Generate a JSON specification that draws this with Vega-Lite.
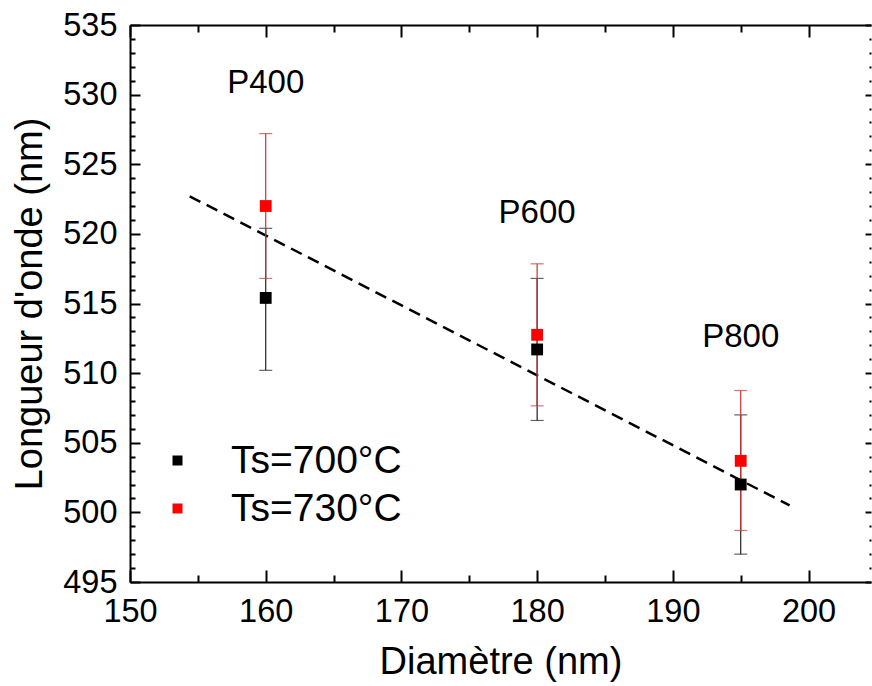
{
  "$schema": "https://vega.github.io/schema/vega-lite/v6.json",
  "width": 741,
  "height": 557,
  "autosize": {"type": "none"},
  "padding": {"left": 130, "top": 25, "right": 1, "bottom": 104},
  "background": "white",
  "config": {
    "font": "Liberation Sans",
    "view": {"stroke": null},
    "axis": {"grid": false, "labelColor": "black", "titleColor": "black", "tickColor": "black", "domainColor": "black", "labelFont": "Liberation Sans", "titleFont": "Liberation Sans", "titleFontWeight": "normal", "labelFlush": false, "labelOverlap": false, "tickWidth": 2, "domainWidth": 2}
  },
  "datasets": {
    "pts": [
      {"d": 160, "series": "Ts=700°C", "y": 515.4, "lo": 510.2, "hi": 520.4},
      {"d": 180, "series": "Ts=700°C", "y": 511.7, "lo": 506.6, "hi": 516.8},
      {"d": 195, "series": "Ts=700°C", "y": 502.0, "lo": 497.0, "hi": 507.0},
      {"d": 160, "series": "Ts=730°C", "y": 522.0, "lo": 516.8, "hi": 527.2},
      {"d": 180, "series": "Ts=730°C", "y": 512.75, "lo": 507.65, "hi": 517.85},
      {"d": 195, "series": "Ts=730°C", "y": 503.7, "lo": 498.7, "hi": 508.75}
    ],
    "fit": [
      {"x": 154.4, "y": 522.7},
      {"x": 198.6, "y": 500.5}
    ],
    "labels": [
      {"x": 160, "y": 530.8, "text": "P400"},
      {"x": 180, "y": 521.5, "text": "P600"},
      {"x": 195, "y": 512.6, "text": "P800"}
    ]
  },
  "layer": [
    {
      "data": {"name": "fit"},
      "mark": {"type": "line", "color": "black", "strokeWidth": 2.5, "strokeDash": [12, 7]},
      "encoding": {
        "x": {"field": "x", "type": "quantitative",
          "scale": {"domain": [150, 204.6], "nice": false, "zero": false},
          "axis": {"orient": "bottom", "values": [150,155,160,165,170,175,180,185,190,195,200],
            "tickSize": {"condition": {"test": "datum.value % 10 === 0", "value": -12}, "value": -7},
            "labelExpr": "datum.value % 10 === 0 ? datum.label : ''",
            "labelPadding": 25, "labelFontSize": 32.5, "domain": true,
            "title": "Diamètre (nm)", "titleFontSize": 38, "titlePadding": 11}},
        "y": {"field": "y", "type": "quantitative",
          "scale": {"domain": [495, 535], "nice": false, "zero": false},
          "axis": {"orient": "left", "values": [495,496,497,498,499,500,501,502,503,504,505,506,507,508,509,510,511,512,513,514,515,516,517,518,519,520,521,522,523,524,525,526,527,528,529,530,531,532,533,534,535],
            "tickSize": {"condition": {"test": "datum.value % 5 === 0", "value": -10}, "value": -5},
            "labelExpr": "datum.value % 5 === 0 ? datum.label : ''",
            "labelPadding": 23, "labelFontSize": 32.5, "domain": true,
            "title": "Longueur d'onde (nm)", "titleFontSize": 38, "titlePadding": 13}}
      }
    },
    {
      "data": {"name": "pts"},
      "transform": [{"filter": "datum.series === 'Ts=700°C'"}],
      "mark": {"type": "errorbar", "ticks": {"size": 13, "thickness": 1.2, "color": "#222222"}, "rule": {"strokeWidth": 1.2, "color": "#222222"}},
      "encoding": {
        "x": {"field": "d", "type": "quantitative", "scale": {"domain": [150, 204.6], "nice": false, "zero": false}, "axis": null},
        "y": {"field": "lo", "type": "quantitative", "scale": {"domain": [495, 535], "nice": false, "zero": false}, "axis": null},
        "y2": {"field": "hi"}
      }
    },
    {
      "data": {"name": "pts"},
      "transform": [{"filter": "datum.series === 'Ts=730°C'"}],
      "mark": {"type": "errorbar", "ticks": {"size": 13, "thickness": 1.2, "color": "#cc3333"}, "rule": {"strokeWidth": 1.2, "color": "#cc3333"}},
      "encoding": {
        "x": {"field": "d", "type": "quantitative", "scale": {"domain": [150, 204.6], "nice": false, "zero": false}, "axis": null},
        "y": {"field": "lo", "type": "quantitative", "scale": {"domain": [495, 535], "nice": false, "zero": false}, "axis": null},
        "y2": {"field": "hi"}
      }
    },
    {
      "data": {"name": "pts"},
      "mark": {"type": "square", "size": 140, "opacity": 1, "filled": true},
      "encoding": {
        "x": {"field": "d", "type": "quantitative", "scale": {"domain": [150, 204.6], "nice": false, "zero": false},
          "axis": {"orient": "top", "values": [150,155,160,165,170,175,180,185,190,195,200],
            "tickSize": {"condition": {"test": "datum.value % 10 === 0", "value": -12}, "value": -7},
            "labels": false, "domain": true, "title": null}},
        "y": {"field": "y", "type": "quantitative", "scale": {"domain": [495, 535], "nice": false, "zero": false},
          "axis": {"orient": "right", "values": [495,496,497,498,499,500,501,502,503,504,505,506,507,508,509,510,511,512,513,514,515,516,517,518,519,520,521,522,523,524,525,526,527,528,529,530,531,532,533,534,535],
            "tickSize": {"condition": {"test": "datum.value % 5 === 0", "value": -6}, "value": -2},
            "labels": false, "domain": false, "title": null}},
        "color": {"field": "series", "type": "nominal",
          "scale": {"domain": ["Ts=700°C", "Ts=730°C"], "range": ["#000000", "#ff0000"]},
          "legend": {"orient": "none", "legendX": 28, "legendY": 416, "title": null,
            "symbolType": "square", "symbolSize": 100, "symbolStrokeWidth": 0, "symbolOpacity": 1,
            "labelFontSize": 39, "labelFont": "Liberation Sans", "labelColor": "black",
            "labelOffset": 34, "rowPadding": 8, "labelLimit": 400}}
      }
    },
    {
      "data": {"name": "labels"},
      "mark": {"type": "text", "fontSize": 33, "font": "Liberation Sans", "color": "black", "align": "center", "baseline": "middle"},
      "encoding": {
        "x": {"field": "x", "type": "quantitative", "scale": {"domain": [150, 204.6], "nice": false, "zero": false}, "axis": null},
        "y": {"field": "y", "type": "quantitative", "scale": {"domain": [495, 535], "nice": false, "zero": false}, "axis": null},
        "text": {"field": "text"}
      }
    }
  ],
  "resolve": {"axis": {"x": "independent", "y": "independent"}}
}
